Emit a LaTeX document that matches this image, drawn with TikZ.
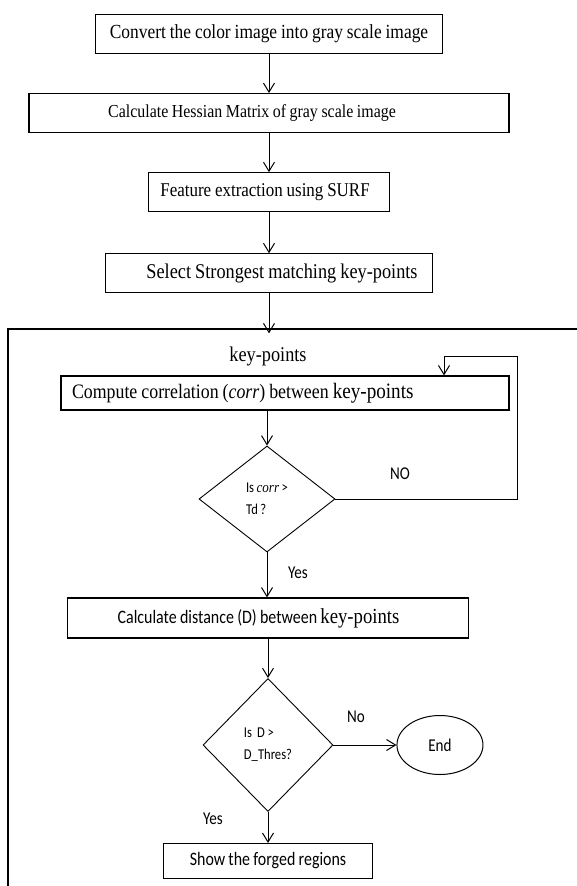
\documentclass[tikz,border=0pt]{standalone}
\usepackage{fontspec}
\setmainfont[FakeStretch=0.87, WordSpace=0.9]{Liberation Serif}
\setsansfont[FakeStretch=0.84, WordSpace=0.9]{Carlito}
\usetikzlibrary{shapes.geometric}
\usetikzlibrary{arrows.meta}
\usetikzlibrary{positioning}

\begin{document}
\begin{tikzpicture}[x=1pt, y=-1pt,
    every node/.style={inner sep=0pt},
    procbox/.style={draw, line width=1.1pt, minimum height=39pt, font=\fontsize{20}{23}\selectfont},
    sansbox/.style={draw, line width=1.1pt, font=\sffamily\fontsize{19}{22}\selectfont},
    decision/.style={draw, diamond, line width=0.9pt, align=left, font=\sffamily\fontsize{15}{22}\selectfont},
    lbl/.style={font=\sffamily\fontsize{18}{21}\selectfont},
    arr/.style={-{Straight Barb[length=9pt,width=11pt]}, line width=1pt},
  ]
        \useasboundingbox (0,0) rectangle (577,886);

        \node[procbox, minimum width=347pt] (convert) at (269,34) {Convert the color image into gray scale image};
        \node[procbox, minimum width=480pt, below=39pt of convert, font=\fontsize{18.3}{21}\selectfont] (hessian) {Calculate Hessian Matrix of gray scale image\hspace*{34pt}};
        \node[procbox, minimum width=241pt, below=39pt of hessian, font=\fontsize{19.5}{22}\selectfont] (surf) {Feature extraction using SURF\hspace*{8pt}};
        \node[procbox, minimum width=327pt, below=41pt of surf, font=\fontsize{21}{24}\selectfont] (select) {\hspace*{26pt}Select Strongest matching key-points};
        \coordinate[below=40pt of select] (frametop);

        % frame round the matching loop
        \draw[line width=1.2pt] (577,329) -- (8,329) -- (8,886);

        \node[font=\fontsize{21}{24}\selectfont] (kp) at (268,356) {key-points};
        \node[procbox, minimum height=34pt, text width=426pt, inner xsep=11pt, align=flush left, font=\fontsize{20.5}{23}\selectfont] (corr) at (285,393)
          {Compute correlation (\textit{corr}) between {\fontsize{22}{24}\selectfont key-points}};
        \node[decision, minimum width=136pt, minimum height=106pt] (d1) at (267,499) {Is {\rmfamily\itshape corr} >\\Td ?};
        \node[lbl] (nolbl) at (400,474) {NO};
        \node[lbl] (yeslbl) at (298,573) {Yes};
        \node[sansbox, minimum width=401pt, minimum height=40pt] (dist) at (268,618)
          {Calculate distance (D) between {\rmfamily\fontsize{21.5}{24}\selectfont key-points}\hspace*{19pt}};
        \node[decision, minimum width=130pt, minimum height=133pt] (d2) at (268,745) {Is\ \ D >\\D\_Thres?};
        \node[draw, ellipse, line width=1pt, minimum width=86pt, minimum height=59pt, right=63pt of d2, font=\sffamily\fontsize{18}{21}\selectfont] (end) {End};
        \node[lbl] (nolbl2) at (356,717) {No};
        \node[sansbox, minimum width=209pt, minimum height=35pt, below=31pt of d2] (show) {Show the forged regions};
        \node[lbl] (yeslbl2) at (213,819) {Yes};

        \coordinate (loopr) at (517,356);
        \coordinate (loopin) at (444,356);

        \draw[arr] (convert) -- (hessian);
        \draw[arr] (hessian) -- (surf);
        \draw[arr] (surf) -- (select);
        \draw[arr] (select) -- (frametop);
        \draw[arr] (corr.south -| d1.north) -- (d1.north);
        \draw[arr] (d1.east) -| (loopr) -- (loopin) -- (loopin |- corr.north);
        \draw[arr] (d1.south) -- (d1.south |- dist.north);
        \draw[arr] (dist) -- (d2);
        \draw[arr] (d2) -- (end);
        \draw[arr] (d2) -- (show);
\end{tikzpicture}
\end{document}
